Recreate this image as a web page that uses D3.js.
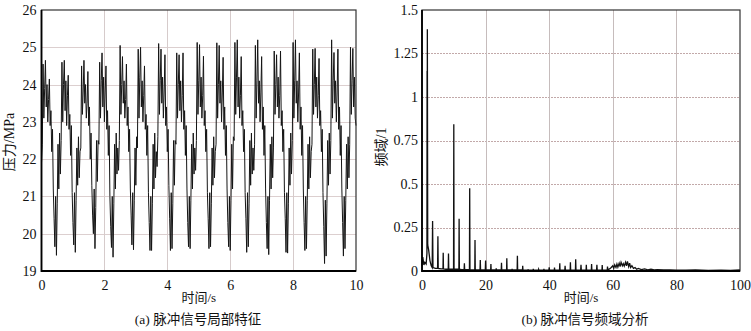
<!DOCTYPE html>
<html><head><meta charset="utf-8">
<script src="https://cdn.jsdelivr.net/npm/d3@7"></script>
<style>
html,body{margin:0;padding:0;background:#fff;}
svg{display:block;}
</style></head>
<body>
<script>
// ---------- Data (a): pressure signal, sampled every 0.025 s, 0..10 s ----------
const sampleStep = 0.025;
const pressure = [
 21.9,
 22.4,24.55,23.1,23.9,24.65,23.4,24.0,23.0,23.6,24.15,22.9,23.3,22.2,22.8,21.2,20.4,19.65,21.0,19.42,20.8,22.4,21.2,22.7,21.6,
 22.5,24.6,23.0,24.0,24.65,23.3,24.1,22.9,23.7,24.25,22.8,23.2,22.1,22.9,21.1,20.3,19.7,21.1,19.5,20.9,22.3,21.3,22.6,21.5,22.2,
 22.3,24.5,23.2,23.8,24.65,23.5,24.0,23.1,23.5,24.35,22.9,23.4,22.0,22.7,21.3,20.5,20.0,21.2,19.6,20.7,22.5,21.4,22.5,
 22.4,24.6,23.1,24.1,24.85,23.4,24.2,23.0,23.8,24.5,22.8,23.3,22.1,22.9,21.0,20.2,19.63,21.0,19.37,20.8,22.4,21.2,22.7,21.6,22.3,21.7,
 22.5,25.05,23.2,24.0,24.75,23.5,24.1,23.1,23.6,24.55,22.9,23.4,22.2,22.8,21.2,20.5,19.7,21.1,19.57,20.9,22.3,21.3,22.6,
 22.3,24.95,23.1,24.2,25.0,23.4,24.1,23.0,23.7,24.5,22.8,23.2,22.1,22.9,21.1,20.3,19.55,21.0,19.55,20.8,22.4,21.2,22.7,21.5,22.2,21.8,
 22.6,25.1,23.2,24.1,24.95,23.5,24.2,23.1,23.8,24.8,22.9,23.4,22.2,22.8,21.3,20.4,19.55,21.1,19.6,20.8,22.5,21.3,22.5,
 22.4,24.85,23.1,24.0,24.8,23.3,24.1,23.0,23.7,24.85,22.8,23.3,22.1,22.9,21.2,20.3,19.65,21.0,19.6,20.9,22.4,21.2,22.7,21.6,22.3,21.7,
 22.5,25.13,23.2,24.1,25.07,23.4,24.2,23.1,23.7,24.76,22.9,23.3,22.2,22.8,21.1,20.4,19.6,21.1,19.65,20.8,22.3,21.3,22.6,21.5,22.2,
 22.4,25.12,23.1,24.0,25.05,23.5,24.1,23.0,23.8,24.73,22.8,23.4,22.1,22.9,21.2,20.3,19.65,21.0,19.55,20.9,22.4,21.2,22.6,
 22.5,25.13,23.2,24.2,25.2,23.4,24.2,23.1,23.7,24.75,22.9,23.3,22.2,22.8,21.1,20.4,19.5,21.1,19.65,20.8,22.5,21.3,22.7,21.6,22.3,21.7,
 22.4,25.05,23.1,24.1,25.2,23.5,24.1,23.0,23.8,24.75,22.8,23.4,22.1,22.9,21.2,20.3,19.6,21.0,19.44,20.9,22.4,21.2,22.6,21.5,
 22.3,24.9,23.2,24.0,24.8,23.4,24.2,23.1,23.7,24.9,22.9,23.3,22.2,22.8,21.1,20.4,19.5,21.1,19.48,20.8,22.3,21.3,22.7,21.6,
 22.5,25.13,23.1,24.1,25.2,23.5,24.1,23.0,23.8,24.85,22.8,23.4,22.1,22.9,21.2,20.3,19.55,21.0,19.6,20.9,22.4,21.2,22.6,21.5,22.2,
 22.4,24.95,23.2,24.0,24.97,23.4,24.2,23.1,23.7,24.7,22.9,23.3,22.2,22.8,21.1,20.2,19.2,20.9,19.4,20.8,22.5,21.3,22.7,21.6,
 22.5,25.2,23.1,24.1,24.86,23.5,24.1,23.0,23.8,24.95,22.8,23.4,22.1,22.9,21.2,20.3,19.4,21.0,19.6,20.9,22.4,21.2,22.6,21.5,
 22.4,25.0,23.2,24.1,24.97,23.4,24.2,23.1,22.9
];
const timeTicks = [0, 2, 4, 6, 8, 10];
const pressureTicks = [19, 20, 21, 22, 23, 24, 25, 26];

// ---------- Data (b): frequency spectrum ----------
const specFreq = [0,0.25,0.6,0.9,1.3,1.55,1.6,1.65,1.68,1.8,2.1,2.5,2.9,3.2,3.33,3.45,4.2,4.9,5.0,5.1,6.0,6.6,6.67,6.75,7.5,8.25,8.33,8.42,9.2,9.92,10.0,10.08,10.8,11.6,11.67,11.75,12.5,13.25,13.33,13.42,14.2,14.92,15.0,15.08,15.8,16.6,16.67,16.75,17.5,18.25,18.33,18.42,19.9,20.0,20.1,21.6,21.67,21.75,23.3,23.33,23.4,24.92,25.0,25.08,26.6,26.67,26.75,28.3,28.33,28.4,29.92,30.0,30.08,31.6,31.67,31.75,33.3,33.33,33.4,34.95,35.0,35.05,36.6,36.67,36.75,38.3,38.33,38.4,39.9,40.0,40.1,41.6,41.67,41.75,43.25,43.33,43.4,44.9,45.0,45.1,46.6,46.67,46.75,48.25,48.33,48.42,49.9,50.0,50.1,51.6,51.67,51.75,53.25,53.33,53.42,54.9,55.0,55.1,56.6,56.67,56.75,58.25,58.33,58.42,59.0,59.5,60.0,60.3,60.6,61.0,61.3,61.6,62.0,62.3,62.6,63.0,63.3,63.6,64.0,64.3,64.6,65.0,65.3,65.6,66.0,66.5,67.0,67.5,68.0,69,70,71,72,73,74,76,78,80,83,86,90,94,97,100];
const specAmp  = [0.03,0.08,0.035,0.05,0.04,0.1,1.15,0.2,1.39,0.15,0.12,0.06,0.03,0.02,0.287,0.02,0.015,0.015,0.2,0.015,0.012,0.012,0.105,0.012,0.01,0.01,0.10,0.01,0.01,0.01,0.843,0.01,0.01,0.01,0.30,0.01,0.008,0.008,0.045,0.008,0.008,0.008,0.475,0.008,0.006,0.006,0.178,0.006,0.006,0.006,0.063,0.006,0.006,0.06,0.006,0.006,0.04,0.006,0.008,0.015,0.006,0.006,0.048,0.006,0.006,0.073,0.006,0.006,0.012,0.006,0.006,0.088,0.006,0.006,0.03,0.005,0.005,0.01,0.005,0.005,0.012,0.005,0.005,0.01,0.005,0.005,0.012,0.005,0.005,0.021,0.005,0.005,0.02,0.005,0.005,0.044,0.005,0.005,0.03,0.005,0.005,0.05,0.005,0.005,0.067,0.005,0.005,0.035,0.005,0.005,0.036,0.005,0.005,0.04,0.005,0.005,0.036,0.005,0.005,0.035,0.005,0.005,0.025,0.008,0.012,0.02,0.03,0.015,0.035,0.02,0.04,0.022,0.045,0.025,0.05,0.03,0.042,0.028,0.05,0.03,0.055,0.025,0.045,0.02,0.03,0.015,0.02,0.01,0.015,0.008,0.012,0.007,0.01,0.006,0.008,0.006,0.007,0.005,0.005,0.006,0.004,0.005,0.004,0.006];
const freqTicks = [0, 20, 40, 60, 80, 100];
const ampTicks = [0, 0.25, 0.5, 0.75, 1, 1.25, 1.5];
const ampTickLabels = ["0", "0.25", "0.5", "0.75", "1", "1.25", "1.5"];

// ---------- Drawing ----------
const W = 751, H = 331;
const FONT = "'Liberation Serif', 'DejaVu Serif', 'Noto Sans CJK SC', serif";
const svg = d3.select("body").append("svg").attr("width", W).attr("height", H);

function panel(opts) {
  const g = svg.append("g");
  const x = d3.scaleLinear().domain(opts.xDomain).range([opts.x0, opts.x1]);
  const y = d3.scaleLinear().domain(opts.yDomain).range([opts.y1, opts.y0]);
  // grid
  g.append("g").selectAll("line").data(opts.yTicks.slice(1, -1)).join("line")
    .attr("x1", opts.x0).attr("x2", opts.x1)
    .attr("y1", d => Math.round(y(d)) + 0.5).attr("y2", d => Math.round(y(d)) + 0.5)
    .attr("stroke", opts.hGridColor).attr("stroke-width", 1)
    .attr("stroke-dasharray", opts.hDash || null);
  g.append("g").selectAll("line").data(opts.xTicks.slice(1, -1)).join("line")
    .attr("y1", opts.y0).attr("y2", opts.y1)
    .attr("x1", d => Math.round(x(d)) + 0.5).attr("x2", d => Math.round(x(d)) + 0.5)
    .attr("stroke", opts.vGridColor).attr("stroke-width", 1);
  // data
  g.append("path").datum(opts.data)
    .attr("fill", "none").attr("stroke", opts.lineColor).attr("stroke-width", opts.lineWidth)
    .attr("stroke-linejoin", "miter")
    .attr("d", d3.line().x(d => x(d[0])).y(d => y(d[1])));
  // frame
  g.append("rect").attr("x", opts.x0).attr("y", opts.y0)
    .attr("width", opts.x1 - opts.x0).attr("height", opts.y1 - opts.y0)
    .attr("fill", "none").attr("stroke", "#333").attr("stroke-width", 1.2);
  g.append("line").attr("x1", opts.x0).attr("x2", opts.x0).attr("y1", opts.y0).attr("y2", opts.y1 + 1)
    .attr("stroke", "#000").attr("stroke-width", 1.8);
  g.append("line").attr("x1", opts.x0).attr("x2", opts.x1).attr("y1", opts.y1).attr("y2", opts.y1)
    .attr("stroke", "#000").attr("stroke-width", 1.8);
  // axes labels via d3 axes
  const ax = g.append("g").attr("transform", `translate(0,${opts.y1})`)
    .call(d3.axisBottom(x).tickValues(opts.xTicks).tickSize(0).tickPadding(9).tickFormat(d3.format("d")));
  const ay = g.append("g").attr("transform", `translate(${opts.x0},0)`)
    .call(d3.axisLeft(y).tickValues(opts.yTicks).tickSize(0).tickPadding(opts.yPad)
      .tickFormat((d, i) => opts.yLabels ? opts.yLabels[i] : d));
  [ax, ay].forEach(a => {
    a.attr("font-family", null).attr("font-size", null);
    a.select(".domain").remove();
    a.selectAll("text").style("font-size", "14px").style("font-family", FONT).attr("fill", "#111");
  });
  // axis titles
  g.append("text").attr("x", (opts.x0 + opts.x1) / 2).attr("y", 302)
    .attr("text-anchor", "middle").style("font-size", "13px").style("font-family", FONT)
    .attr("fill", "#111").text(opts.xTitle);
  g.append("text").attr("transform", `translate(${opts.yTitleX},${opts.yTitleY}) rotate(-90)`)
    .attr("text-anchor", "middle").style("font-size", "14px").style("font-family", FONT)
    .attr("fill", "#111").text(opts.yTitle);
  g.append("text").attr("x", opts.capX).attr("y", 324)
    .attr("text-anchor", "middle").style("font-size", "13.5px").style("font-family", FONT)
    .attr("fill", "#111").text(opts.caption);
}

panel({
  x0: 41.5, x1: 356, y0: 10, y1: 271,
  xDomain: [0, 10], yDomain: [19, 26],
  xTicks: timeTicks, yTicks: pressureTicks, yPad: 5,
  data: pressure.map((v, i) => [i * sampleStep, v]),
  lineColor: "#151515", lineWidth: 1,
  hGridColor: "#dccfcf", vGridColor: "#d6cbcb",
  xTitle: "时间/s", yTitle: "压力/MPa", yTitleX: 14, yTitleY: 142,
  caption: "(a) 脉冲信号局部特征", capX: 198
});

panel({
  x0: 422, x1: 740, y0: 10, y1: 271,
  xDomain: [0, 100], yDomain: [0, 1.5],
  xTicks: freqTicks, yTicks: ampTicks, yLabels: ampTickLabels, yPad: 4,
  data: specFreq.map((f, i) => [f, specAmp[i]]),
  lineColor: "#111", lineWidth: 1.3,
  hGridColor: "#c2a9a9", vGridColor: "#c6bcbc", hDash: "2,1",
  xTitle: "时间/s", yTitle: "频域/1", yTitleX: 386, yTitleY: 147,
  caption: "(b) 脉冲信号频域分析", capX: 585
});
</script>
</body></html>
